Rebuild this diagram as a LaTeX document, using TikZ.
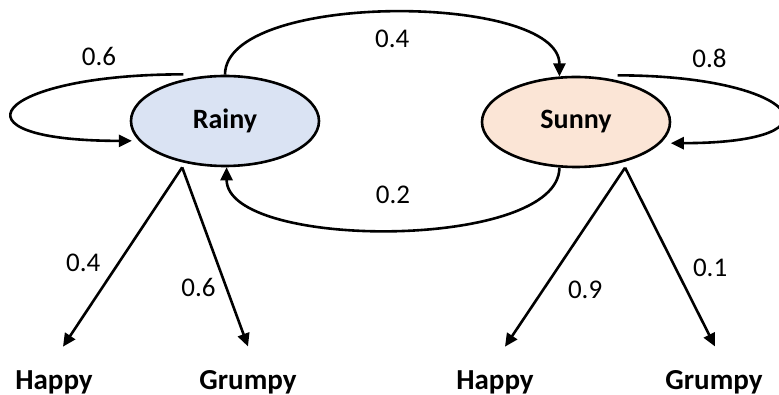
\documentclass[tikz,border=0pt]{standalone}
\usepackage{fontspec}
\setmainfont{Carlito}
\usetikzlibrary{shapes.geometric, arrows.meta, positioning}
\definecolor{rainblue}{HTML}{DAE3F3}
\definecolor{sunpeach}{HTML}{FBE5D6}

\begin{document}
\begin{tikzpicture}[x=1pt, y=1pt,
    weather/.style={ellipse, draw, line width=2.6pt, minimum width=188pt,
      minimum height=90pt, font=\fontsize{28}{30}\selectfont\bfseries},
    mood/.style={anchor=base, font=\fontsize{29}{31}\selectfont\bfseries},
    prob/.style={font=\fontsize{27}{29}\selectfont},
    arr/.style={-{Triangle[length=13pt,width=12pt]}, line width=2.6pt}]
  \useasboundingbox (0,0) rectangle (779,-395);

  % Add the states
  \node[weather, fill=rainblue] (rainy) at (225,-121) {Rainy};
  \node[weather, fill=sunpeach] (sunny) at (576,-122) {Sunny};

  % Add the observations
  \node[mood] (rhappy)  at (54,-389)  {Happy};
  \node[mood] (rgrumpy) at (248,-389) {Grumpy};
  \node[mood] (shappy)  at (495,-389) {Happy};
  \node[mood] (sgrumpy) at (714,-389) {Grumpy};

  % Connect the states with arrows
  \path[nodes=prob, every edge/.append style={arr}]
    (rainy.north) edge[out=90, in=90, looseness=0.64] node[below=13pt] {0.4} (sunny.110)
    (sunny.-110) edge[out=-90, in=-90, looseness=0.64] node[above=21pt] {0.2} (rainy.-88)
    ([yshift=5pt]rainy.135) edge[out=180, in=180, distance=190pt] node[pos=0.17, above=9pt] {0.6} ([xshift=-7pt]rainy.-167)
    ([yshift=5pt]sunny.45) edge[out=0, in=0, distance=180pt] node[pos=0.2, above=10pt] {0.8} ([xshift=10pt]sunny.-14);

  % Emissions
  \path[nodes=prob, every edge/.append style={arr}]
    ([yshift=-5pt]rainy.-136) edge node[pos=0.53, left=14pt] {0.4} ([shift={(9pt,20pt)}]rhappy.north)
    ([yshift=-5pt]rainy.-136) edge node[pos=0.67, left=6pt] {0.6} ([shift={(0pt,20pt)}]rgrumpy.north)
    ([yshift=-6pt]sunny.-39) edge node[pos=0.68, right=20pt] {0.9} ([shift={(10pt,20pt)}]shappy.north)
    ([yshift=-6pt]sunny.-39) edge node[pos=0.56, right=13pt] {0.1} ([shift={(1pt,20pt)}]sgrumpy.north);
\end{tikzpicture}
\end{document}
